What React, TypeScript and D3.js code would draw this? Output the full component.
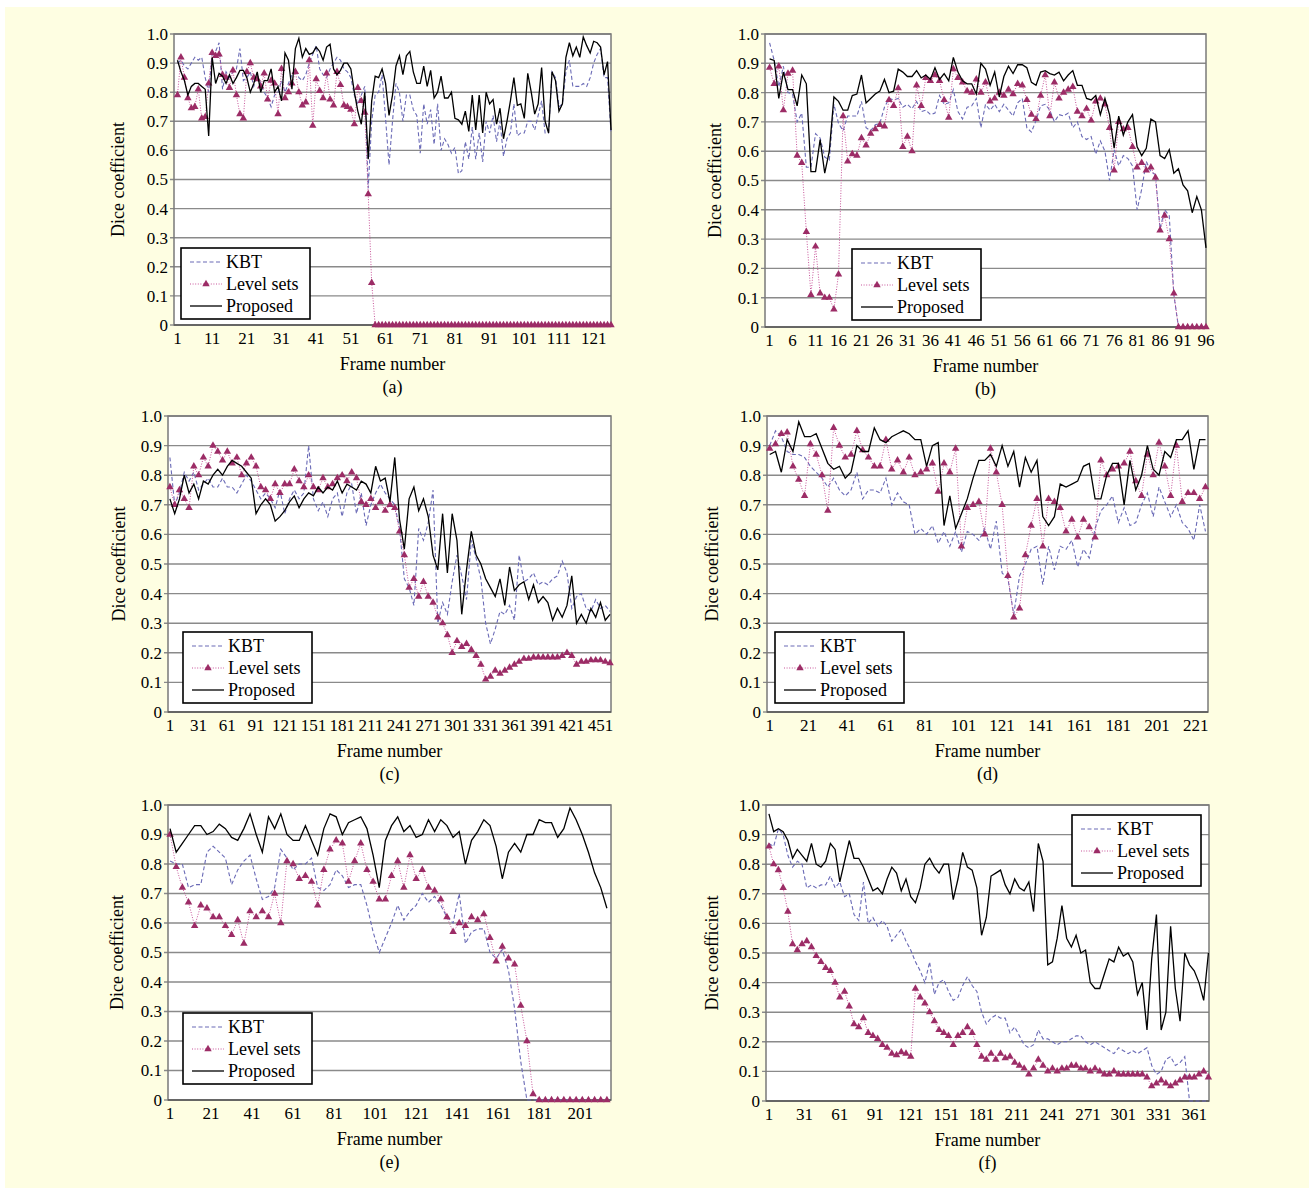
import * as d3 from 'd3';

// ---------- data (Dice coefficient per frame) ----------
const seriesNames = ['KBT', 'Level sets', 'Proposed'];
const yTickValues = [0, 0.1, 0.2, 0.3, 0.4, 0.5, 0.6, 0.7, 0.8, 0.9, 1.0];
const yTickLabels = ['0', '0.1', '0.2', '0.3', '0.4', '0.5', '0.6', '0.7', '0.8', '0.9', '1.0'];

// (a) every frame, 1..126
const ticksA = [1, 11, 21, 31, 41, 51, 61, 71, 81, 91, 101, 111, 121];
const aProposed = [
  0.91, 0.87, 0.84, 0.79, 0.82, 0.83, 0.83, 0.82, 0.81, 0.65,
  0.92, 0.83, 0.865, 0.855, 0.83, 0.86, 0.83, 0.85, 0.875, 0.875,
  0.85, 0.80, 0.83, 0.87, 0.80, 0.84, 0.84, 0.88, 0.80, 0.82,
  0.77, 0.935, 0.91, 0.81, 0.95, 0.985, 0.92, 0.95, 0.93, 0.935,
  0.955, 0.94, 0.91, 0.955, 0.965, 0.88, 0.86, 0.875, 0.90, 0.90,
  0.88, 0.80, 0.735, 0.69, 0.80, 0.57, 0.77, 0.855, 0.85, 0.88,
  0.83, 0.72, 0.79, 0.89, 0.925, 0.86, 0.925, 0.94, 0.87, 0.83,
  0.83, 0.89, 0.82, 0.875, 0.78, 0.80, 0.855, 0.78, 0.78, 0.80,
  0.71, 0.705, 0.69, 0.735, 0.665, 0.79, 0.67, 0.79, 0.66, 0.80,
  0.76, 0.775, 0.69, 0.745, 0.64, 0.70, 0.77, 0.85, 0.755, 0.76,
  0.71, 0.865, 0.80, 0.725, 0.76, 0.885, 0.70, 0.66, 0.87, 0.84,
  0.735, 0.76, 0.92, 0.97, 0.925, 0.955, 0.92, 0.99, 0.96, 0.935,
  0.975, 0.97, 0.955, 0.86, 0.905, 0.67,
];
const aKbt = [
  0.90, 0.91, 0.89, 0.88, 0.90, 0.92, 0.91, 0.92, 0.85, 0.80,
  0.93, 0.94, 0.97, 0.81, 0.87, 0.85, 0.87, 0.88, 0.95, 0.84,
  0.85, 0.87, 0.82, 0.86, 0.83, 0.80, 0.78, 0.75, 0.79, 0.80,
  0.84, 0.80, 0.83, 0.86, 0.88, 0.85, 0.84, 0.86, 0.90, 0.93,
  0.96, 0.88, 0.86, 0.85, 0.88, 0.90, 0.92, 0.91, 0.88, 0.87,
  0.85, 0.79, 0.76, 0.79, 0.82, 0.47, 0.70, 0.79, 0.80, 0.86,
  0.71, 0.55, 0.70, 0.83, 0.80, 0.70, 0.79, 0.79, 0.74, 0.72,
  0.59, 0.76, 0.69, 0.74, 0.62, 0.76, 0.60, 0.64, 0.62, 0.59,
  0.61, 0.52, 0.53, 0.63, 0.57, 0.68, 0.57, 0.66, 0.56, 0.70,
  0.66, 0.72, 0.63, 0.70, 0.58, 0.64, 0.66, 0.76, 0.65, 0.66,
  0.66, 0.70, 0.70, 0.67, 0.72, 0.77, 0.66, 0.66, 0.87, 0.85,
  0.75, 0.76, 0.87, 0.91, 0.82, 0.82, 0.82, 0.83, 0.82, 0.85,
  0.90, 0.93, 0.95, 0.85, 0.85, 0.66,
];
const aLevel = [
  0.79, 0.92, 0.85, 0.78, 0.745, 0.75, 0.81, 0.71, 0.715, 0.83,
  0.935, 0.925, 0.93, 0.86, 0.85, 0.815, 0.875, 0.79, 0.725, 0.71,
  0.87, 0.90, 0.85, 0.845, 0.82, 0.865, 0.775, 0.84, 0.83, 0.725,
  0.88, 0.78, 0.80, 0.83, 0.87, 0.80, 0.755, 0.765, 0.91, 0.685,
  0.845, 0.805, 0.78, 0.865, 0.775, 0.755, 0.87, 0.825, 0.755, 0.75,
  0.74, 0.69, 0.815, 0.77, 0.73, 0.45, 0.145, 0, 0, 0,
  0, 0, 0, 0, 0, 0, 0, 0, 0, 0,
  0, 0, 0, 0, 0, 0, 0, 0, 0, 0,
  0, 0, 0, 0, 0, 0, 0, 0, 0, 0,
  0, 0, 0, 0, 0, 0, 0, 0, 0, 0,
  0, 0, 0, 0, 0, 0, 0, 0, 0, 0,
  0, 0, 0, 0, 0, 0, 0, 0, 0, 0,
  0, 0, 0, 0, 0, 0,
];

// (b) every frame, 1..96
const ticksB = [1, 6, 11, 16, 21, 26, 31, 36, 41, 46, 51, 56, 61, 66, 71, 76, 81, 86, 91, 96];
const bProposed = [
  0.915, 0.91, 0.78, 0.87, 0.81, 0.81, 0.755, 0.86, 0.83, 0.53,
  0.53, 0.64, 0.525, 0.60, 0.785, 0.77, 0.74, 0.74, 0.79, 0.795,
  0.86, 0.765, 0.78, 0.795, 0.805, 0.845, 0.80, 0.805, 0.88, 0.87,
  0.855, 0.855, 0.875, 0.85, 0.86, 0.845, 0.885, 0.845, 0.865, 0.84,
  0.92, 0.87, 0.84, 0.83, 0.83, 0.795, 0.90, 0.88, 0.825, 0.87,
  0.785, 0.855, 0.89, 0.865, 0.895, 0.895, 0.885, 0.835, 0.825, 0.87,
  0.875, 0.865, 0.86, 0.87, 0.84, 0.86, 0.875, 0.825, 0.825, 0.78,
  0.775, 0.79, 0.725, 0.78, 0.725, 0.61, 0.72, 0.655, 0.70, 0.725,
  0.615, 0.585, 0.61, 0.71, 0.70, 0.585, 0.575, 0.605, 0.525, 0.54,
  0.485, 0.465, 0.39, 0.445, 0.40, 0.27,
];
const bKbt = [
  0.97, 0.91, 0.82, 0.89, 0.80, 0.795, 0.70, 0.73, 0.545, 0.545,
  0.66, 0.645, 0.58, 0.57, 0.76, 0.695, 0.67, 0.72, 0.72, 0.72,
  0.77, 0.68, 0.67, 0.69, 0.695, 0.75, 0.78, 0.775, 0.78, 0.75,
  0.76, 0.745, 0.77, 0.735, 0.74, 0.725, 0.73, 0.79, 0.76, 0.765,
  0.81, 0.735, 0.71, 0.75, 0.755, 0.78, 0.68, 0.76, 0.74, 0.76,
  0.735, 0.76, 0.74, 0.72, 0.765, 0.78, 0.68, 0.665, 0.705, 0.755,
  0.76, 0.74, 0.70, 0.725, 0.72, 0.73, 0.68, 0.70, 0.65, 0.64,
  0.65, 0.59, 0.635, 0.60, 0.50, 0.605, 0.55, 0.585, 0.575, 0.55,
  0.40, 0.47, 0.565, 0.53, 0.52, 0.335, 0.40, 0.38, 0.11, 0,
  0, 0, 0, 0, 0, 0,
];
const bLevel = [
  0.885, 0.83, 0.89, 0.74, 0.865, 0.875, 0.585, 0.56, 0.325, 0.11,
  0.275, 0.115, 0.10, 0.10, 0.06, 0.18, 0.72, 0.565, 0.59, 0.585,
  0.645, 0.62, 0.66, 0.675, 0.69, 0.685, 0.775, 0.755, 0.815, 0.615,
  0.65, 0.60, 0.825, 0.755, 0.85, 0.84, 0.86, 0.84, 0.775, 0.715,
  0.88, 0.85, 0.835, 0.805, 0.80, 0.845, 0.80, 0.835, 0.77, 0.78,
  0.80, 0.79, 0.81, 0.795, 0.83, 0.825, 0.775, 0.725, 0.71, 0.79,
  0.86, 0.72, 0.835, 0.78, 0.80, 0.81, 0.82, 0.735, 0.72, 0.745,
  0.705, 0.77, 0.78, 0.76, 0.68, 0.535, 0.70, 0.675, 0.68, 0.615,
  0.545, 0.56, 0.535, 0.545, 0.51, 0.33, 0.38, 0.30, 0.115, 0,
  0, 0, 0, 0, 0, 0,
];

// (c) every 5th frame, 1..461
const ticksC = [1, 31, 61, 91, 121, 151, 181, 211, 241, 271, 301, 331, 361, 391, 421, 451];
const cProposed = [
  0.72, 0.67, 0.72, 0.80, 0.74, 0.77, 0.72, 0.78, 0.77, 0.80,
  0.82, 0.80, 0.83, 0.85, 0.84, 0.83, 0.81, 0.79, 0.67, 0.70,
  0.72, 0.70, 0.645, 0.66, 0.68, 0.71, 0.73, 0.69, 0.72, 0.74,
  0.73, 0.76, 0.74, 0.76, 0.75, 0.78, 0.74, 0.77, 0.76, 0.75,
  0.78, 0.77, 0.74, 0.83, 0.78, 0.79, 0.71, 0.86, 0.65, 0.55,
  0.72, 0.76, 0.68, 0.72, 0.66, 0.53, 0.48, 0.67, 0.47, 0.67,
  0.58, 0.33, 0.48, 0.61, 0.53, 0.50, 0.45, 0.42, 0.39, 0.45,
  0.36, 0.49, 0.41, 0.43, 0.44, 0.38, 0.43, 0.37, 0.39, 0.37,
  0.31, 0.35, 0.32, 0.36, 0.46, 0.30, 0.33, 0.30, 0.35, 0.32,
  0.37, 0.31, 0.33,
];
const cKbt = [
  0.86, 0.70, 0.74, 0.81, 0.78, 0.81, 0.75, 0.77, 0.79, 0.76,
  0.76, 0.79, 0.76, 0.76, 0.74, 0.77, 0.80, 0.78, 0.75, 0.72,
  0.74, 0.72, 0.69, 0.75, 0.67, 0.72, 0.75, 0.72, 0.74, 0.90,
  0.72, 0.68, 0.71, 0.66, 0.72, 0.74, 0.66, 0.74, 0.77, 0.67,
  0.74, 0.63, 0.70, 0.74, 0.77, 0.74, 0.72, 0.70, 0.62, 0.45,
  0.42, 0.36, 0.62, 0.58, 0.64, 0.75, 0.30, 0.37, 0.33, 0.44,
  0.53, 0.46, 0.38, 0.58, 0.52, 0.45, 0.30, 0.23, 0.28, 0.34,
  0.33, 0.36, 0.31, 0.53, 0.44, 0.45, 0.47, 0.43, 0.44, 0.43,
  0.45, 0.46, 0.51, 0.47, 0.35, 0.39, 0.40, 0.35, 0.34, 0.38,
  0.35, 0.36, 0.34,
];
const cLevel = [
  0.76, 0.70, 0.75, 0.72, 0.69, 0.83, 0.80, 0.86, 0.83, 0.90,
  0.88, 0.85, 0.88, 0.84, 0.86, 0.80, 0.84, 0.86, 0.83, 0.76,
  0.75, 0.72, 0.77, 0.74, 0.77, 0.77, 0.82, 0.78, 0.76, 0.80,
  0.76, 0.75, 0.79, 0.76, 0.77, 0.79, 0.80, 0.78, 0.81, 0.79,
  0.71, 0.70, 0.72, 0.69, 0.71, 0.68, 0.70, 0.69, 0.61, 0.53,
  0.42, 0.45, 0.39, 0.44, 0.39, 0.37, 0.32, 0.30, 0.26, 0.20,
  0.24, 0.22, 0.23, 0.21, 0.19, 0.16, 0.11, 0.12, 0.14, 0.13,
  0.14, 0.15, 0.16, 0.17, 0.18, 0.18, 0.185, 0.185, 0.185, 0.185,
  0.185, 0.185, 0.19, 0.20, 0.19, 0.16, 0.17, 0.17, 0.175, 0.175,
  0.175, 0.17, 0.165,
];

// (d) every 3rd frame, 1..226
const ticksD = [1, 21, 41, 61, 81, 101, 121, 141, 161, 181, 201, 221];
const dProposed = [
  0.87, 0.88, 0.81, 0.92, 0.88, 0.98, 0.93, 0.93, 0.94, 0.89,
  0.84, 0.82, 0.83, 0.79, 0.81, 0.90, 0.88, 0.88, 0.96, 0.92,
  0.91, 0.93, 0.94, 0.95, 0.94, 0.92, 0.92, 0.83, 0.90, 0.91,
  0.63, 0.73, 0.62, 0.67, 0.72, 0.79, 0.85, 0.85, 0.87, 0.83,
  0.90, 0.83, 0.88, 0.76, 0.86, 0.81, 0.85, 0.66, 0.63, 0.66,
  0.77, 0.76, 0.77, 0.78, 0.83, 0.84, 0.72, 0.72, 0.80, 0.84,
  0.84, 0.70, 0.85, 0.75, 0.80, 0.90, 0.82, 0.80, 0.88, 0.86,
  0.92, 0.92, 0.95, 0.82, 0.92, 0.92,
];
const dKbt = [
  0.90, 0.95, 0.93, 0.88, 0.87, 0.87, 0.86, 0.83, 0.81, 0.79,
  0.76, 0.79, 0.75, 0.73, 0.75, 0.81, 0.72, 0.75, 0.75, 0.74,
  0.79, 0.70, 0.74, 0.71, 0.70, 0.60, 0.62, 0.60, 0.63, 0.57,
  0.61, 0.56, 0.61, 0.54, 0.61, 0.60, 0.58, 0.62, 0.55, 0.645,
  0.47, 0.45, 0.33, 0.46, 0.50, 0.55, 0.56, 0.43, 0.56, 0.48,
  0.56, 0.55, 0.58, 0.49, 0.55, 0.52, 0.62, 0.68, 0.70, 0.73,
  0.64, 0.69, 0.63, 0.64, 0.70, 0.74, 0.66, 0.76, 0.71, 0.66,
  0.70, 0.64, 0.62, 0.58, 0.70, 0.61,
];
const dLevel = [
  0.89, 0.905, 0.94, 0.945, 0.83, 0.785, 0.73, 0.905, 0.87, 0.80,
  0.68, 0.96, 0.90, 0.86, 0.87, 0.95, 0.885, 0.86, 0.83, 0.83,
  0.92, 0.82, 0.85, 0.81, 0.86, 0.80, 0.81, 0.82, 0.84, 0.745,
  0.84, 0.81, 0.89, 0.56, 0.69, 0.70, 0.71, 0.60, 0.89, 0.81,
  0.70, 0.46, 0.32, 0.35, 0.53, 0.63, 0.72, 0.56, 0.72, 0.71,
  0.69, 0.61, 0.65, 0.59, 0.65, 0.625, 0.59, 0.85, 0.80, 0.82,
  0.83, 0.84, 0.88, 0.78, 0.73, 0.87, 0.80, 0.91, 0.83, 0.73,
  0.90, 0.71, 0.74, 0.74, 0.72, 0.76,
];

// (e) every 3rd frame, 1..214
const ticksE = [1, 21, 41, 61, 81, 101, 121, 141, 161, 181, 201];
const eProposed = [
  0.92, 0.84, 0.87, 0.90, 0.93, 0.93, 0.90, 0.91, 0.935, 0.92,
  0.89, 0.88, 0.92, 0.97, 0.90, 0.84, 0.96, 0.92, 0.97, 0.90,
  0.88, 0.88, 0.93, 0.88, 0.83, 0.92, 0.97, 0.96, 0.90, 0.94,
  0.95, 0.96, 0.92, 0.83, 0.72, 0.88, 0.93, 0.96, 0.91, 0.93,
  0.89, 0.90, 0.95, 0.91, 0.95, 0.93, 0.89, 0.91, 0.80, 0.88,
  0.91, 0.95, 0.93, 0.86, 0.75, 0.84, 0.87, 0.84, 0.90, 0.90,
  0.95, 0.94, 0.94, 0.89, 0.92, 0.99, 0.95, 0.90, 0.84, 0.77,
  0.72, 0.65,
];
const eKbt = [
  0.81, 0.80, 0.80, 0.72, 0.73, 0.73, 0.84, 0.86, 0.84, 0.82,
  0.73, 0.78, 0.81, 0.83, 0.75, 0.68, 0.69, 0.72, 0.85, 0.82,
  0.78, 0.80, 0.80, 0.82, 0.72, 0.71, 0.73, 0.78, 0.76, 0.72,
  0.73, 0.73, 0.66, 0.57, 0.50, 0.55, 0.60, 0.66, 0.61, 0.64,
  0.66, 0.70, 0.67, 0.69, 0.66, 0.62, 0.60, 0.70, 0.53, 0.57,
  0.58, 0.58, 0.50, 0.48, 0.51, 0.44, 0.31, 0.13, 0, 0,
  0, 0, 0, 0, 0, 0, 0, 0, 0, 0,
  0, 0,
];
const eLevel = [
  0.90, 0.79, 0.72, 0.67, 0.59, 0.66, 0.65, 0.62, 0.62, 0.59,
  0.56, 0.61, 0.53, 0.64, 0.62, 0.64, 0.62, 0.70, 0.60, 0.81,
  0.80, 0.75, 0.76, 0.74, 0.66, 0.78, 0.85, 0.88, 0.87, 0.74,
  0.81, 0.87, 0.78, 0.74, 0.68, 0.68, 0.76, 0.81, 0.72, 0.83,
  0.75, 0.78, 0.72, 0.71, 0.68, 0.62, 0.57, 0.60, 0.59, 0.62,
  0.61, 0.63, 0.55, 0.47, 0.52, 0.48, 0.46, 0.32, 0.20, 0.02,
  0, 0, 0, 0, 0, 0, 0, 0, 0, 0,
  0, 0,
];

// (f) every 4th frame, 1..373
const ticksF = [1, 31, 61, 91, 121, 151, 181, 211, 241, 271, 301, 331, 361];
const fProposed = [
  0.97, 0.91, 0.92, 0.91, 0.88, 0.82, 0.85, 0.83, 0.81, 0.87,
  0.80, 0.79, 0.81, 0.87, 0.85, 0.74, 0.81, 0.88, 0.82, 0.82,
  0.79, 0.75, 0.71, 0.72, 0.70, 0.75, 0.79, 0.77, 0.71, 0.75,
  0.69, 0.67, 0.72, 0.80, 0.82, 0.79, 0.77, 0.80, 0.80, 0.68,
  0.75, 0.84, 0.79, 0.78, 0.72, 0.56, 0.62, 0.76, 0.77, 0.78,
  0.73, 0.70, 0.75, 0.72, 0.71, 0.74, 0.64, 0.87, 0.81, 0.46,
  0.47, 0.55, 0.66, 0.55, 0.52, 0.56, 0.50, 0.51, 0.40, 0.38,
  0.38, 0.43, 0.48, 0.47, 0.52, 0.49, 0.50, 0.47, 0.36, 0.40,
  0.24, 0.48, 0.63, 0.24, 0.30, 0.59, 0.38, 0.27, 0.50, 0.46,
  0.44, 0.40, 0.34, 0.50,
];
const fKbt = [
  0.87, 0.86, 0.92, 0.90, 0.83, 0.79, 0.81, 0.80, 0.72, 0.73,
  0.72, 0.73, 0.73, 0.76, 0.72, 0.74, 0.69, 0.70, 0.63, 0.61,
  0.74, 0.60, 0.62, 0.59, 0.61, 0.59, 0.54, 0.56, 0.58, 0.54,
  0.51, 0.47, 0.44, 0.40, 0.47, 0.36, 0.40, 0.41, 0.37, 0.34,
  0.35, 0.39, 0.42, 0.39, 0.37, 0.30, 0.26, 0.28, 0.29, 0.28,
  0.28, 0.23, 0.25, 0.22, 0.19, 0.18, 0.19, 0.24, 0.21, 0.21,
  0.20, 0.19, 0.20, 0.20, 0.21, 0.22, 0.22, 0.20, 0.19, 0.20,
  0.19, 0.18, 0.17, 0.16, 0.18, 0.17, 0.16, 0.17, 0.16, 0.17,
  0.18, 0.12, 0.09, 0.10, 0.14, 0.15, 0.12, 0.13, 0.15, 0,
  0, 0, 0, 0,
];
const fLevel = [
  0.86, 0.80, 0.78, 0.72, 0.64, 0.53, 0.51, 0.53, 0.54, 0.52,
  0.49, 0.47, 0.45, 0.44, 0.40, 0.35, 0.37, 0.32, 0.26, 0.25,
  0.28, 0.23, 0.22, 0.21, 0.19, 0.18, 0.16, 0.155, 0.165, 0.16,
  0.15, 0.38, 0.35, 0.33, 0.30, 0.27, 0.24, 0.23, 0.22, 0.19,
  0.22, 0.23, 0.25, 0.23, 0.19, 0.15, 0.14, 0.16, 0.14, 0.16,
  0.145, 0.15, 0.13, 0.12, 0.11, 0.09, 0.11, 0.14, 0.12, 0.10,
  0.11, 0.10, 0.11, 0.11, 0.12, 0.12, 0.11, 0.11, 0.10, 0.11,
  0.10, 0.09, 0.09, 0.10, 0.09, 0.09, 0.09, 0.09, 0.09, 0.09,
  0.08, 0.05, 0.06, 0.07, 0.06, 0.05, 0.06, 0.07, 0.08, 0.08,
  0.08, 0.09, 0.10, 0.08,
];

// ---------- layout ----------
const W = 1309;
const H = 1188;
const FONT = '"Liberation Serif", "Times New Roman", serif';
const KBT_COLOR = '#6a6ab6';
const LEVEL_LINE = '#c8559a';
const LEVEL_MARK = '#9c2c66';

const panels = [
  { tag: '(a)', left: 174, right: 611, top: 34, bottom: 325, xMin: 0, xMax: 126, step: 1,
    ticks: ticksA, kbt: aKbt, level: aLevel, proposed: aProposed, legend: [181, 248], yTitleX: 118 },
  { tag: '(b)', left: 765, right: 1206, top: 34, bottom: 327, xMin: 0, xMax: 96, step: 1,
    ticks: ticksB, kbt: bKbt, level: bLevel, proposed: bProposed, legend: [852, 249], yTitleX: 715 },
  { tag: '(c)', left: 168, right: 611, top: 416, bottom: 712, xMin: -1, xMax: 462, step: 5,
    ticks: ticksC, kbt: cKbt, level: cLevel, proposed: cProposed, legend: [183, 632], yTitleX: 119 },
  { tag: '(d)', left: 767, right: 1208, top: 416, bottom: 712, xMin: -0.4, xMax: 227.3, step: 3,
    ticks: ticksD, kbt: dKbt, level: dLevel, proposed: dProposed, legend: [775, 632], yTitleX: 712 },
  { tag: '(e)', left: 168, right: 611, top: 805, bottom: 1100, xMin: 0, xMax: 216, step: 3,
    ticks: ticksE, kbt: eKbt, level: eLevel, proposed: eProposed, legend: [183, 1013], yTitleX: 117 },
  { tag: '(f)', left: 766, right: 1209, top: 805, bottom: 1101, xMin: -1.5, xMax: 373.5, step: 4,
    ticks: ticksF, kbt: fKbt, level: fLevel, proposed: fProposed, legend: [1072, 815], yTitleX: 712 },
];

type PanelCfg = (typeof panels)[number];

const triangle = d3.symbol().type(d3.symbolTriangle).size(24)() as string;

function Panel({ cfg }: { cfg: PanelCfg }) {
  const x = d3.scaleLinear().domain([cfg.xMin, cfg.xMax]).range([cfg.left, cfg.right]);
  const y = d3.scaleLinear().domain([0, 1]).range([cfg.bottom, cfg.top]);
  const pts = (vals: number[]) => vals.map((v, i) => [1 + i * cfg.step, v] as [number, number]);
  const line = d3.line<[number, number]>().x(d => x(d[0])).y(d => y(d[1]));

  const kbt = pts(cfg.kbt);
  const level = pts(cfg.level);
  const proposed = pts(cfg.proposed);
  const [lx, ly] = cfg.legend;
  const midX = (cfg.left + cfg.right) / 2;

  return (
    <g fontFamily={FONT} fill="#000">
      <rect x={cfg.left} y={cfg.top} width={cfg.right - cfg.left} height={cfg.bottom - cfg.top} fill="#fff" />
      {yTickValues.map(t => (
        <line key={t} x1={cfg.left - 4} x2={t > 0 ? cfg.right : cfg.left} y1={y(t)} y2={y(t)}
          stroke="#8a8a8a" strokeWidth={1.4} />
      ))}
      <rect x={cfg.left} y={cfg.top} width={cfg.right - cfg.left} height={cfg.bottom - cfg.top}
        fill="none" stroke="#7a7a7a" strokeWidth={1.5} />
      <line x1={cfg.left} x2={cfg.right} y1={cfg.bottom} y2={cfg.bottom} stroke="#555" strokeWidth={1.5} />

      {/* series */}
      <path d={line(kbt) ?? ''} fill="none" stroke={KBT_COLOR} strokeWidth={1.1} strokeDasharray="4 2.5" />
      <path d={line(level) ?? ''} fill="none" stroke={LEVEL_LINE} strokeWidth={1} strokeDasharray="1 1.6" />
      {level.map((d, i) => (
        <path key={i} d={triangle} transform={`translate(${x(d[0])},${y(d[1])})`} fill={LEVEL_MARK} />
      ))}
      <path d={line(proposed) ?? ''} fill="none" stroke="#000" strokeWidth={1.3} />

      {/* axes labels */}
      {yTickValues.map((t, i) => (
        <text key={t} x={cfg.left - 6} y={y(t)} dy="0.35em" textAnchor="end" fontSize={17}>{yTickLabels[i]}</text>
      ))}
      {cfg.ticks.map(t => (
        <text key={t} x={x(t)} y={cfg.bottom + 19} textAnchor="middle" fontSize={17}>{t}</text>
      ))}
      <text transform={`translate(${cfg.yTitleX},${(cfg.top + cfg.bottom) / 2}) rotate(-90)`}
        textAnchor="middle" dy="0.35em" fontSize={18}>Dice coefficient</text>
      <text x={midX} y={cfg.bottom + 45} textAnchor="middle" fontSize={18}>Frame number</text>
      <text x={midX} y={cfg.bottom + 68} textAnchor="middle" fontSize={18}>{cfg.tag}</text>

      {/* legend */}
      <rect x={lx} y={ly} width={129} height={71} fill="#fff" stroke="#000" strokeWidth={1.6} />
      {seriesNames.map((name, i) => {
        const cy = ly + 14 + i * 22;
        return (
          <g key={name}>
            {i === 0 && <line x1={lx + 9} x2={lx + 41} y1={cy} y2={cy} stroke={KBT_COLOR} strokeWidth={1.1} strokeDasharray="4 2.5" />}
            {i === 1 && (
              <>
                <line x1={lx + 9} x2={lx + 41} y1={cy} y2={cy} stroke={LEVEL_LINE} strokeWidth={1} strokeDasharray="1 1.6" />
                <path d={triangle} transform={`translate(${lx + 25},${cy})`} fill={LEVEL_MARK} />
              </>
            )}
            {i === 2 && <line x1={lx + 9} x2={lx + 41} y1={cy} y2={cy} stroke="#000" strokeWidth={1.3} />}
            <text x={lx + 45} y={cy} dy="0.35em" fontSize={18}>{name}</text>
          </g>
        );
      })}
    </g>
  );
}

export default function App() {
  return (
    <svg width={W} height={H} style={{ position: 'absolute', left: 0, top: 0 }}>
      <rect width={W} height={H} fill="#fff" />
      <rect x={5} y={7} width={W - 5} height={H - 7} fill="#fefee2" />
      {panels.map(p => <Panel key={p.tag} cfg={p} />)}
    </svg>
  );
}
